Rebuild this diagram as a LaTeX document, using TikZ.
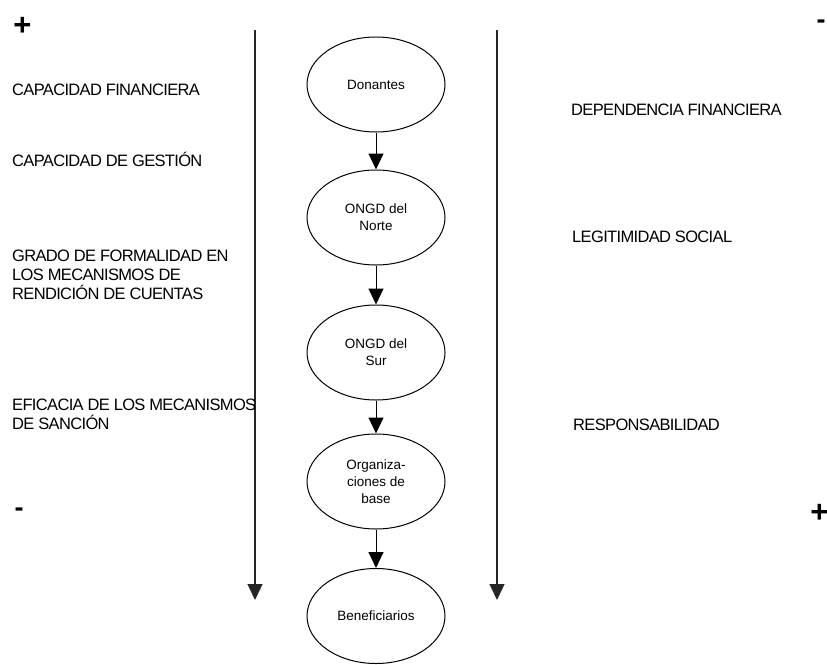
\documentclass[tikz,border=0pt]{standalone}
\usepackage{fontspec}
\setmainfont{Liberation Sans}
\usetikzlibrary{shapes.geometric,arrows.meta}
\begin{document}
\begin{tikzpicture}[x=1pt,y=-1pt,
  ent/.style={draw,line width=1pt,ellipse,minimum width=138pt,minimum height=95pt,inner sep=0pt,align=center,font=\fontsize{13.5}{17}\selectfont},
  lbl/.style={anchor=west,align=left,inner sep=0pt,font=\fontsize{16.5}{19}\selectfont\addfontfeature{LetterSpace=-4}},
  sgn/.style={inner sep=0pt,font=\fontsize{27}{27}\selectfont\bfseries},
  sgnp/.style={inner sep=0pt,font=\fontsize{31}{31}\selectfont\bfseries},
  arr/.style={line width=1.3pt,draw=black!85,-{Triangle[width=15pt,length=16pt]}},
  conn/.style={line width=1pt,-{Triangle[width=15pt,length=16pt]}}]
\useasboundingbox (0,0) rectangle (827,664);
\node[ent] (don) at (376,84.5) {Donantes};
\node[ent] (nor) at (376,217.5) {ONGD del\\Norte};
\node[ent] (sur) at (376,352.5) {ONGD del\\Sur};
\node[ent] (org) at (376,481.5) {Organiza-\\ciones de\\base};
\node[ent] (ben) at (376,616) {Beneficiarios};
\draw[conn] (don) -- (nor);
\draw[conn] (nor) -- (sur);
\draw[conn] (sur) -- (org);
\draw[conn] (org) -- (ben);
\coordinate (l1) at (255,30);
\coordinate (l2) at (255,600);
\coordinate (r1) at (497,30);
\coordinate (r2) at (497,600);
\draw[arr] (l1) -- (l2);
\draw[arr] (r1) -- (r2);
\node[sgnp] (pl) at (22.5,26) {+};
\node[sgn] (ml) at (19,512) {-};
\node[sgn] (mr) at (821,24) {-};
\node[sgnp] (pr) at (819.5,513) {+};
\node[lbl] (t1) at (12,90) {CAPACIDAD FINANCIERA};
\node[lbl] (t2) at (12,159) {CAPACIDAD DE GESTIÓN};
\node[lbl] (t3) at (12,275) {GRADO DE FORMALIDAD EN\\LOS MECANISMOS DE\\RENDICIÓN DE CUENTAS};
\node[lbl] (t4) at (12,414) {EFICACIA DE LOS MECANISMOS\\DE SANCIÓN};
\node[lbl] (t5) at (571,110) {DEPENDENCIA FINANCIERA};
\node[lbl] (t6) at (572,237) {LEGITIMIDAD SOCIAL};
\node[lbl] (t7) at (573,425) {RESPONSABILIDAD};
\end{tikzpicture}
\end{document}
